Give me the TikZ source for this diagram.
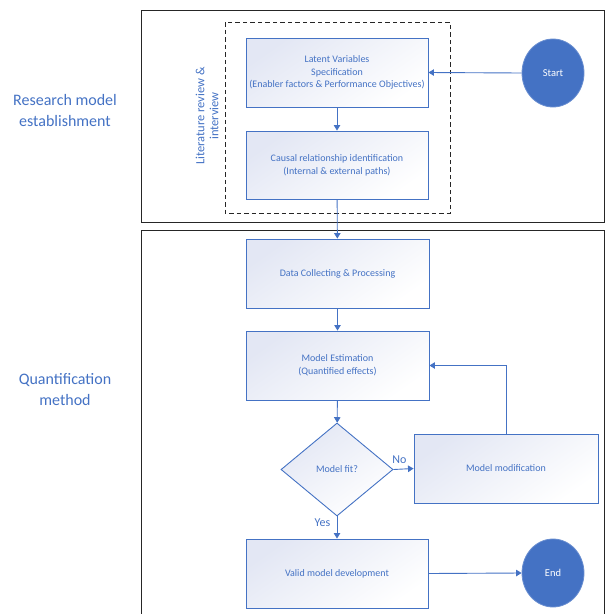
\documentclass[tikz,border=0pt]{standalone}
\usepackage{fontspec}
\setmainfont{Carlito}
\usetikzlibrary{arrows.meta,shapes.geometric}
\definecolor{ofblue}{HTML}{4472C4}
\definecolor{shadeblue}{HTML}{E3E7F4}
\tikzset{
  flowbox/.style={draw=ofblue, line width=0.9pt, rectangle, inner sep=2pt,
    top color=shadeblue, bottom color=white, shading angle=35,
    text=ofblue, font=\fontsize{10}{12.7}\selectfont, align=center},
  decision/.style={draw=ofblue, line width=0.9pt, diamond, inner sep=0pt,
    top color=shadeblue, bottom color=white, shading angle=35,
    text=ofblue, font=\fontsize{10}{12.7}\selectfont, minimum width=112pt, minimum height=93pt},
  terminal/.style={ellipse, fill=ofblue, draw=ofblue!80, line width=0.8pt,
    minimum width=62pt, minimum height=68pt, inner sep=0pt,
    text=white, font=\fontsize{10.5}{12}\selectfont},
  conn/.style={draw=ofblue, line width=0.9pt, -{Triangle[width=6.5pt,length=5.5pt]}},
  frame/.style={draw=black!85, line width=0.9pt},
  sidelabel/.style={text=ofblue, font=\fontsize{16}{21}\selectfont, align=center},
  branchlabel/.style={text=ofblue, font=\fontsize{12}{14}\selectfont},
}
\begin{document}
\begin{tikzpicture}[x=1pt,y=-1pt]
\useasboundingbox (0,0) rectangle (609,614);
% outer frames
\draw[frame] (141,10) rectangle (604,222);
\draw[frame] (141,230) rectangle (604,630);
\draw[black!85, line width=0.9pt, dash pattern=on 4.5pt off 3pt] (225,22) rectangle (450,213);
% side labels
\node[sidelabel] (rme) at (65,110) {Research model\\establishment};
\node[sidelabel] (qm) at (65,390) {Quantification\\method};
\node[text=ofblue, font=\fontsize{12.5}{14}\selectfont, align=center, rotate=90] (lit) at (207,116) {Literature review \&\\interview};
% nodes
\node[flowbox, minimum width=182pt, minimum height=69pt] (b1) at (337,72.5) {Latent Variables\\Specification\\(Enabler factors \& Performance Objectives)};
\node[flowbox, minimum width=182pt, minimum height=68pt] (b2) at (337,165) {Causal relationship identification\\(Internal \& external paths)};
\node[terminal] (start) at (553,73) {Start};
\node[flowbox, minimum width=183pt, minimum height=69pt] (b3) at (337.5,273.5) {Data Collecting \& Processing};
\node[flowbox, minimum width=183pt, minimum height=69pt] (b4) at (337.5,365.5) {Model Estimation\\(Quantified effects)};
\node[decision] (dia) at (337,469.5) {Model fit?};
\node[flowbox, minimum width=184pt, minimum height=69pt] (mm) at (506,468.5) {Model modification};
\node[flowbox, minimum width=182pt, minimum height=69pt] (vm) at (337,573.5) {Valid model development};
\node[terminal] (end) at (553,573) {End};
% connectors
\draw[conn] (start.west) -- (b1.east);
\draw[conn] (b1) -- (b2);
\draw[conn] (b2) -- (b3);
\draw[conn] (b3) -- (b4);
\draw[conn] (b4) -- (dia);
\draw[conn] (dia.east) -- (mm.west) node[branchlabel, pos=0.3, above=2pt] (no) {No};
\draw[conn] (dia.south) -- (vm.north) node[branchlabel, pos=0.3, left=3pt] (yes) {Yes};
\draw[conn] (vm.east) -- (end.west);
\draw[conn] (mm.north) |- (b4.east);
\end{tikzpicture}
\end{document}
